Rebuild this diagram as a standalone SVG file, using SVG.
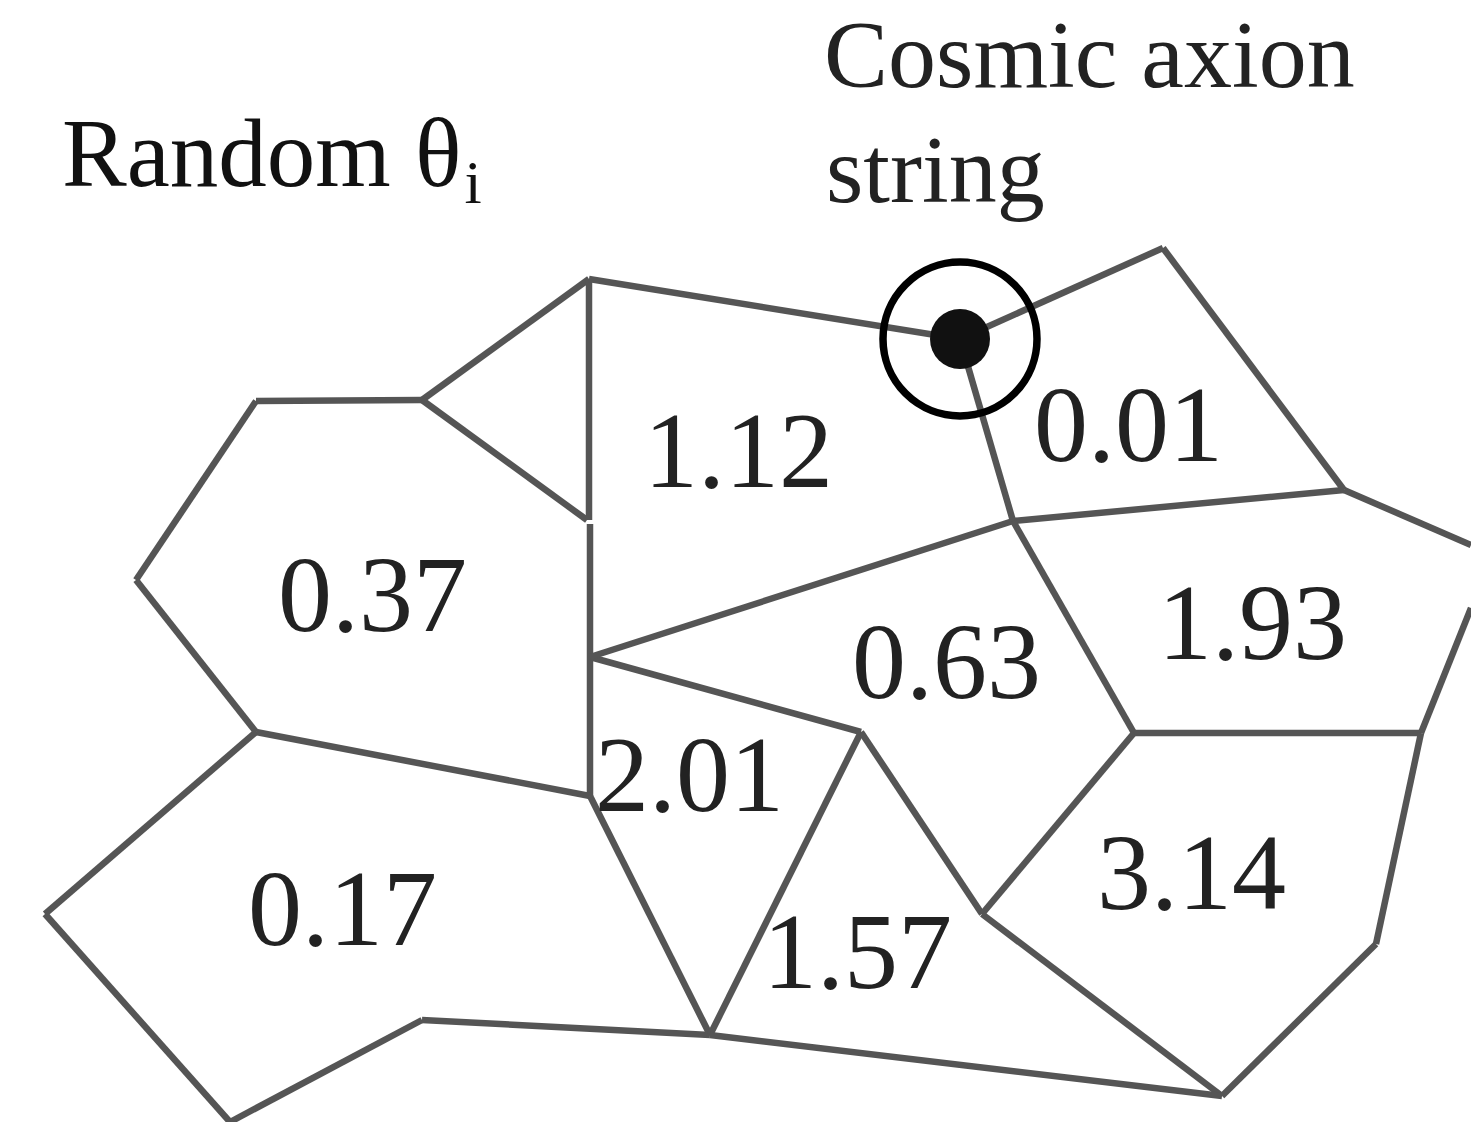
<svg xmlns="http://www.w3.org/2000/svg" width="1471" height="1122" viewBox="0 0 1471 1122">
<style>
.e{stroke:#555;stroke-width:6.5;fill:none;stroke-linecap:butt}
.n{font-family:"Liberation Serif","Times New Roman",serif;font-size:108px;fill:#222}
.t{font-family:"Liberation Serif","Times New Roman",serif;font-size:97px;fill:#111}
</style>
<rect width="1471" height="1122" fill="#fff"/>
<g id="connectors">
<line class="e" x1="589" y1="279" x2="422" y2="400"/>
<line class="e" x1="422" y1="400" x2="256" y2="401"/>
<line class="e" x1="256" y1="401" x2="136" y2="580"/>
<line class="e" x1="136" y1="580" x2="256" y2="732"/>
<line class="e" x1="422" y1="400" x2="587" y2="520"/>
<line class="e" x1="589" y1="279" x2="589" y2="520"/>
<line class="e" x1="590" y1="524" x2="590" y2="796"/>
<line class="e" x1="256" y1="732" x2="590" y2="796"/>
<line class="e" x1="256" y1="732" x2="45" y2="914"/>
<line class="e" x1="45" y1="914" x2="230" y2="1122"/>
<line class="e" x1="230" y1="1122" x2="422" y2="1020"/>
<line class="e" x1="422" y1="1020" x2="710" y2="1035"/>
<line class="e" x1="590" y1="796" x2="710" y2="1035"/>
<line class="e" x1="710" y1="1035" x2="861" y2="732"/>
<line class="e" x1="861" y1="732" x2="982" y2="914"/>
<line class="e" x1="590" y1="657" x2="861" y2="732"/>
<line class="e" x1="590" y1="657" x2="1013" y2="521"/>
<line class="e" x1="1013" y1="521" x2="1344" y2="490"/>
<line class="e" x1="1013" y1="521" x2="1134" y2="733"/>
<line class="e" x1="1344" y1="490" x2="1163" y2="248"/>
<line class="e" x1="1163" y1="248" x2="960" y2="339"/>
<line class="e" x1="589" y1="279" x2="960" y2="339"/>
<line class="e" x1="960" y1="339" x2="1013" y2="521"/>
<line class="e" x1="1344" y1="490" x2="1471" y2="545"/>
<line class="e" x1="1134" y1="733" x2="1421" y2="733"/>
<line class="e" x1="1421" y1="733" x2="1471" y2="608"/>
<line class="e" x1="1421" y1="733" x2="1376" y2="944"/>
<line class="e" x1="1376" y1="944" x2="1222" y2="1096"/>
<line class="e" x1="1222" y1="1096" x2="982" y2="914"/>
<line class="e" x1="982" y1="914" x2="1134" y2="733"/>
<line class="e" x1="710" y1="1035" x2="1222" y2="1096"/>
</g>
<g id="string">
<circle cx="960" cy="339" r="77" fill="none" stroke="#000" stroke-width="7.5"/>
<circle cx="960" cy="339" r="30" fill="#111"/>
</g>
<g id="labels">
<text class="t" x="62" y="186">Random θ<tspan font-size="62" dy="17" dx="3">i</tspan></text>
<text class="t" x="824" y="87" style="font-size:96px;fill:#222">Cosmic axion</text>
<text class="t" x="826" y="202" style="font-size:96px;fill:#222">string</text>
</g>
<g id="cell-1.12"><text class="n" x="644" y="487">1.12</text></g>
<g id="cell-0.01"><text class="n" x="1034" y="461">0.01</text></g>
<g id="cell-0.37"><text class="n" x="278" y="631">0.37</text></g>
<g id="cell-0.63"><text class="n" x="852" y="698">0.63</text></g>
<g id="cell-1.93"><text class="n" x="1158" y="659">1.93</text></g>
<g id="cell-2.01"><text class="n" x="595" y="811">2.01</text></g>
<g id="cell-0.17"><text class="n" x="248" y="945">0.17</text></g>
<g id="cell-1.57"><text class="n" x="763" y="988">1.57</text></g>
<g id="cell-3.14"><text class="n" x="1097" y="909">3.14</text></g>
</svg>
